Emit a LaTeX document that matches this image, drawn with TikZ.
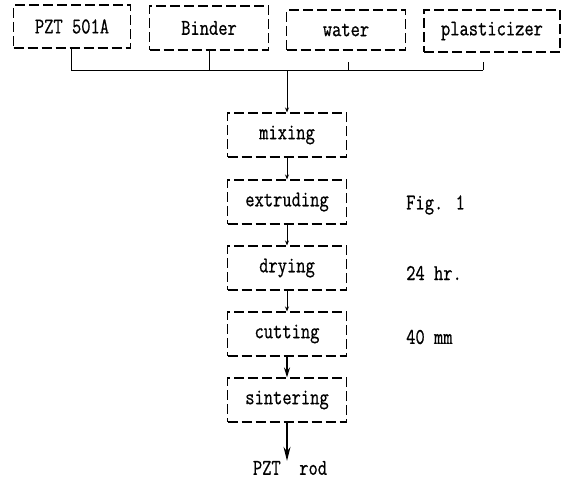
\documentclass[tikz,border=0pt]{standalone}
\usepackage{fontspec}
\usepackage{graphicx}
\usetikzlibrary{arrows.meta}
\newfontfamily\tw[FakeBold=0.8]{Latin Modern Mono}
\newcommand{\tx}[1]{\scalebox{1}[1.25]{#1}}
\begin{document}
\begin{tikzpicture}[x=1pt,y=-1pt,
  box/.style={draw, dash pattern=on 10pt off 4pt, line width=1.1pt, inner sep=0pt,
    minimum height=42pt, font=\tw\fontsize{18}{20}\selectfont},
  pbox/.style={box, minimum width=119pt, minimum height=44pt},
  lbl/.style={font=\tw\fontsize{18}{20}\selectfont, inner sep=0pt},
  link/.style={line width=0.9pt},
  small/.style={link, -{Stealth[length=5pt,width=4pt]}},
  big/.style={line width=1.4pt, -{Stealth[length=10pt,width=6pt]}}]
\useasboundingbox (0,0) rectangle (566,479);
\node[box, minimum width=117pt, minimum height=43pt] (pzt) at (72,26.5) {\tx{PZT 501A}};
\node[box, minimum width=119pt, minimum height=44pt] (binder) at (209,28) {\tx{Binder}};
\node[box, minimum width=119pt, minimum height=40pt] (water) at (346,30) {\tx{water}};
\node[box, minimum width=136pt, minimum height=42pt] (plast) at (492,31) {\tx{plasticizer}};
\coordinate (bus) at (287,70);
\coordinate (busL) at (71,70);
\coordinate (busR) at (483,70);
\coordinate (wdrop) at (348,62);
\draw[link] (busL) -- (busR);
\draw[link] (busL) -- (busL |- pzt.south);
\draw[link] (binder.south) -- (binder.south |- bus);
\draw[link] (wdrop) -- (wdrop |- bus);
\draw[link] (busR) -- ++(0,-8);
\node[pbox] (mix) at (287,135) {\tx{mixing}};
\node[pbox] (ext) at (287,202) {\tx{extruding}};
\node[pbox] (dry) at (287,268) {\tx{drying}};
\node[pbox] (cut) at (287,334) {\tx{cutting}};
\node[pbox] (sin) at (287,400) {\tx{sintering}};
\node[lbl] (rod) at (290,468) {\tx{PZT\ \ rod}};
\node[lbl, anchor=west] (f1) at (406,205) {\tx{Fig. 1}};
\node[lbl, anchor=west] (hr) at (406,273) {\tx{24 hr.}};
\node[lbl, anchor=west] (mm) at (406,337) {\tx{40 mm}};
\draw[small] (bus) -- (bus |- mix.north);
\draw[small] (mix) -- (ext);
\draw[small] (ext) -- (dry);
\draw[small] (dry) -- (cut);
\draw[big] (cut) -- (sin);
\draw[line width=1.4pt, -{Stealth[length=14pt,width=7pt]}] (sin.south) -- (sin.south |- rod.north);
\end{tikzpicture}
\end{document}
